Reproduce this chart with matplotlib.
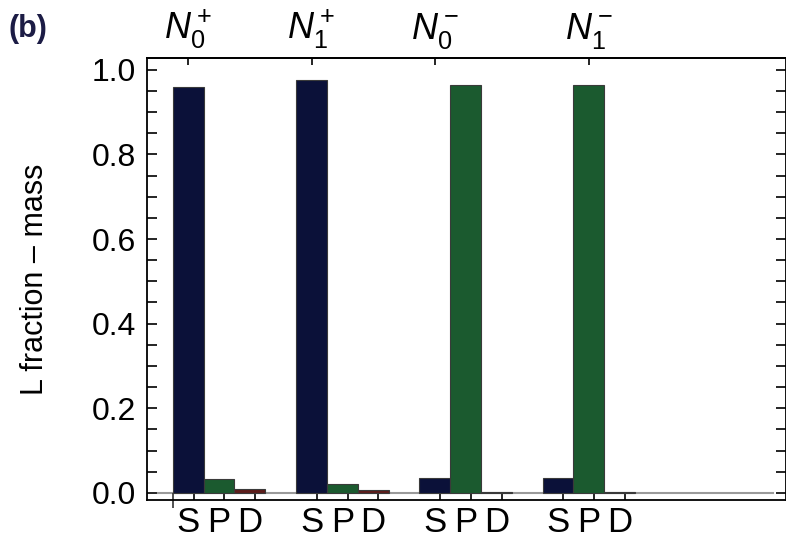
import matplotlib
matplotlib.use('Agg')
import matplotlib.pyplot as plt
import numpy as np

plt.rcParams['font.family'] = ['Liberation Sans', 'DejaVu Sans']
plt.rcParams['mathtext.fontset'] = 'custom'
plt.rcParams['mathtext.rm'] = 'Liberation Sans'
plt.rcParams['mathtext.it'] = 'Liberation Sans:italic'

# data
states = [r'$N_0^+$', r'$N_1^+$', r'$N_0^-$', r'$N_1^-$']
orbitals = ['S', 'P', 'D']
s_frac = [0.960, 0.976, 0.036, 0.036]
p_frac = [0.033, 0.020, 0.963, 0.964]
d_frac = [0.010, 0.007, 0.001, 0.001]
top_tick_bar = [0, 0, 0, 1]  # which bar of each group carries the state label

colors = ['#0b1139', '#1b5a2f', '#5c1d1b']
group_step = 4

fig = plt.figure(figsize=(7.86, 5.42), dpi=100)
ax = fig.add_axes([0.187, 0.0775, 0.813, 0.8155])

n = len(states)
base = np.arange(n) * group_step
for k, vals in enumerate([s_frac, p_frac, d_frac]):
    ax.bar(base + k + 0.5, vals, width=1.0, color=colors[k],
           edgecolor='#3a3a3a', linewidth=0.8, zorder=3)

ax.set_xlim(-0.84, 19.9)
ax.set_ylim(-0.017, 1.028)
ax.axhline(0, xmin=0.017, xmax=0.98, color='#9a9a9a', lw=1.5, zorder=2)

# y axis
ax.set_yticks(np.arange(0, 1.01, 0.2))
ax.set_yticklabels([f'{v:.1f}' for v in np.arange(0, 1.01, 0.2)])
ax.set_yticks(np.arange(0, 1.01, 0.05), minor=True)
ax.tick_params(axis='y', which='both', direction='in', length=7, width=1.2,
               left=True, right=True, labelsize=23, pad=8)
ax.set_ylabel('L fraction \u2013 mass', fontsize=22)
ax.yaxis.set_label_coords(-0.152, 0.5)

# bottom axis: labels at bar centres, tick marks slightly to the right
centers = np.concatenate([base + k + 0.5 for k in range(3)])
labels = [orbitals[k] for k in range(3) for _ in range(n)]
ax.set_xticks(centers)
ax.set_xticklabels(labels)
ax.set_xticks(centers + 0.17, minor=True)
ax.tick_params(axis='x', which='major', length=0, labelsize=25, pad=4)
ax.tick_params(axis='x', which='minor', direction='in', length=6, width=1.2)
ax.vlines(base[0], -0.035, 0, color='#333333', lw=1.2, clip_on=False)

# top axis with state labels
top = ax.secondary_xaxis('top')
top.set_xticks(base + np.array(top_tick_bar) + 0.5)
top.set_xticklabels(states)
top.tick_params(direction='in', length=5, width=1.2, labelsize=26, pad=5)
top.xaxis.set_minor_locator(matplotlib.ticker.NullLocator())

for sp in list(ax.spines.values()) + list(top.spines.values()):
    sp.set_linewidth(1.3)

fig.text(0.011, 0.975, '(b)', fontsize=22, fontweight='bold', color='#1c1c45',
         va='top', ha='left')

fig.savefig('out.png', dpi=100)
